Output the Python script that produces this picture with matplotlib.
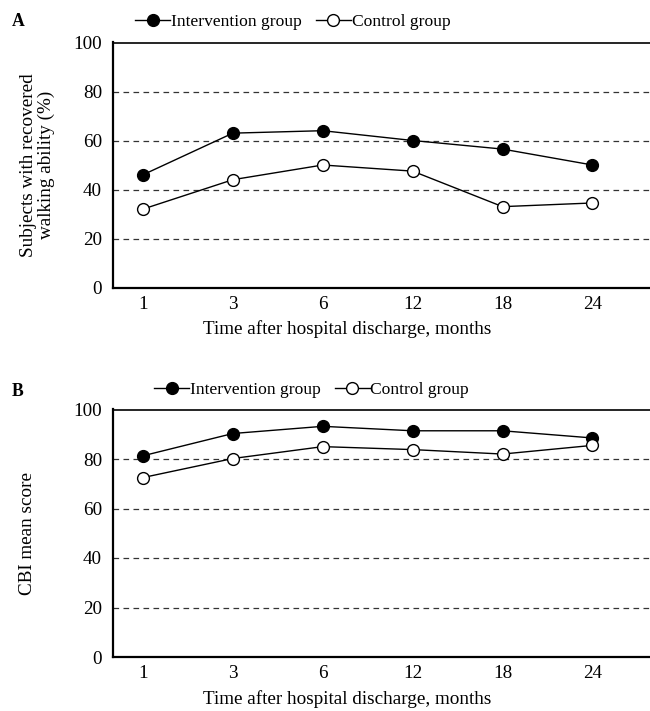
import matplotlib
matplotlib.use("Agg")
import matplotlib.pyplot as plt

months = ["1", "3", "6", "12", "18", "24"]
walk_intervention = [46, 63, 64, 60, 56.5, 50]
walk_control = [32, 44, 50, 47.5, 33, 34.5]
cbi_intervention = [81.3, 90.3, 93.2, 91.4, 91.4, 88.5]
cbi_control = [72.5, 80.2, 85.0, 83.8, 82.0, 85.5]
yticks = [0, 20, 40, 60, 80, 100]
grid_vals = [20, 40, 60, 80]

plt.rcParams['font.family'] = ['Liberation Serif', 'DejaVu Serif']
fs = 13.8
fs_leg = 12.6

fig = plt.figure(figsize=(6.5, 7.11), dpi=100)
W, H = 650, 711

def make_ax(top_px, bottom_px):
    left = 113 / W
    return fig.add_axes([left, 1 - bottom_px / H, 1 - left, (bottom_px - top_px) / H])

axA = make_ax(42.5, 287.5)
axB = make_ax(409.5, 657)

def style(ax, inter, ctrl, ylabel, ylab_x, leg_x, leg_y, ax_h):
    x = list(range(len(months)))
    ax.hlines(grid_vals, -0.333, 5.7, colors='#333333', linestyles=(0, (4.5, 3.5)), linewidth=0.9, zorder=1)
    l1, = ax.plot(x, inter, color='black', lw=1.0, marker='o', ms=8.5, mfc='black', mec='black', zorder=3,
                  label='Intervention group')
    l2, = ax.plot(x, ctrl, color='black', lw=1.0, marker='o', ms=8.5, mfc='white', mec='black', mew=1.0, zorder=3,
                  label='Control group')
    ax.set_xlim(-0.333, 5.64)
    ax.set_ylim(0, 100)
    ax.set_yticks(yticks)
    ax.set_xticks(x)
    ax.set_xticklabels(months)
    ax.tick_params(axis='both', length=0, labelsize=fs, pad=6)
    ax.tick_params(axis='y', pad=8)
    for s in ['left', 'bottom']:
        ax.spines[s].set_linewidth(1.6)
    ax.spines['top'].set_linewidth(1.2)
    ax.spines['right'].set_visible(False)
    ax.set_xlabel('Time after hospital discharge, months', fontsize=fs)
    ax.xaxis.set_label_coords((347 - 113) / 537, -33.0 / ax_h)
    ax.set_ylabel(ylabel, fontsize=fs, linespacing=1.05)
    ax.yaxis.set_label_coords((ylab_x - 113) / 537, 0.5)
    fig.legend(handles=[l1, l2], loc='center left', bbox_to_anchor=(leg_x / W, 1 - leg_y / H), ncol=2,
               frameon=False, fontsize=fs_leg, handlelength=2.0, handletextpad=0.05, columnspacing=0.8,
               borderaxespad=0, borderpad=0)

style(axA, walk_intervention, walk_control, 'Subjects with recovered\nwalking ability (%)', 55, 135, 22, 245)
style(axB, cbi_intervention, cbi_control, 'CBI mean score', 36, 154, 390, 247.5)

fig.text(12 / W, 1 - 22 / H, 'A', fontsize=fs - 1, fontweight='bold', va='center', ha='left')
fig.text(12 / W, 1 - 391 / H, 'B', fontsize=fs - 1, fontweight='bold', va='center', ha='left')

fig.savefig('out.png', dpi=100)
